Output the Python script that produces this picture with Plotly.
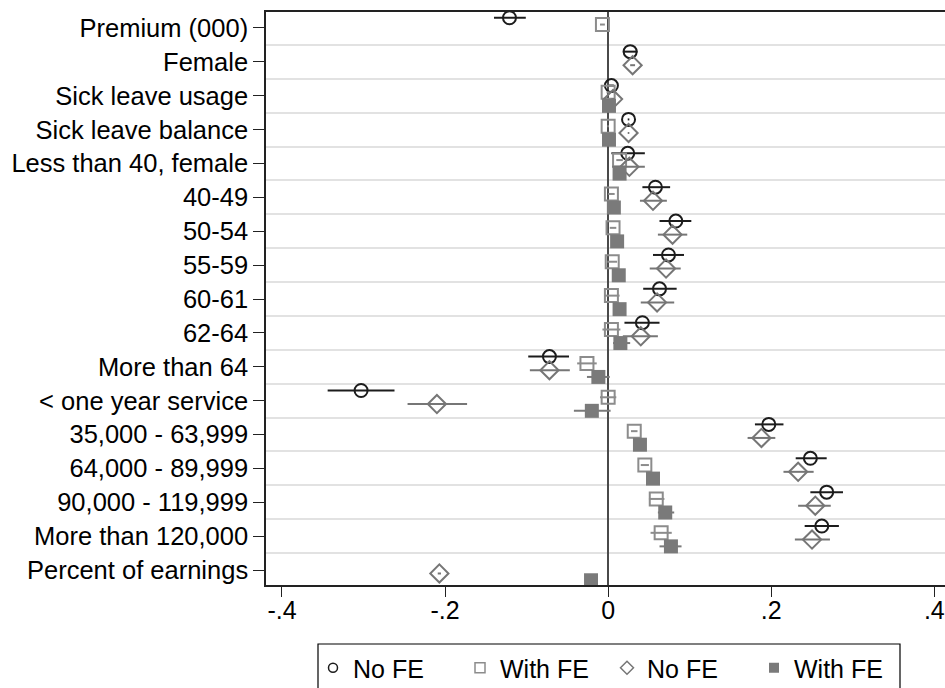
import plotly.graph_objects as go

# Coefficient labels, top to bottom
categories = [
    "Premium (000)", "Female", "Sick leave usage", "Sick leave balance",
    "Less than 40, female", "40-49", "50-54", "55-59", "60-61", "62-64",
    "More than 64", "< one year service", "35,000 - 63,999", "64,000 - 89,999",
    "90,000 - 119,999", "More than 120,000", "Percent of earnings",
]

# Model 1: No FE (circles)
m1_est = [-0.121, 0.027, 0.004, 0.025, 0.024, 0.058, 0.083, 0.074, 0.063, 0.042,
          -0.072, -0.303, 0.197, 0.248, 0.268, 0.262, None]
m1_lo = [-0.140, 0.018, 0.001, 0.024, 0.004, 0.042, 0.063, 0.055, 0.043, 0.020,
         -0.098, -0.344, 0.180, 0.230, 0.248, 0.241, None]
m1_hi = [-0.101, 0.036, 0.007, 0.026, 0.045, 0.076, 0.102, 0.093, 0.084, 0.063,
         -0.048, -0.262, 0.215, 0.268, 0.288, 0.283, None]

# Model 2: With FE (hollow squares)
m2_est = [-0.007, None, 0.000, 0.000, 0.014, 0.004, 0.006, 0.005, 0.004, 0.004,
          -0.026, 0.000, 0.032, 0.045, 0.059, 0.065, None]
m2_lo = [-0.010, None, -0.002, -0.001, 0.010, 0.000, 0.002, -0.001, -0.005, -0.007,
         -0.038, -0.010, 0.028, 0.040, 0.050, 0.052, None]
m2_hi = [-0.004, None, 0.002, 0.001, 0.018, 0.008, 0.010, 0.011, 0.014, 0.015,
         -0.014, 0.010, 0.036, 0.050, 0.069, 0.078, None]

# Model 3: No FE (diamonds)
m3_est = [None, 0.030, 0.006, 0.025, 0.026, 0.055, 0.079, 0.071, 0.060, 0.040,
          -0.072, -0.210, 0.188, 0.233, 0.254, 0.250, -0.207]
m3_lo = [None, 0.027, 0.004, 0.024, 0.005, 0.039, 0.061, 0.051, 0.040, 0.018,
         -0.096, -0.246, 0.171, 0.215, 0.233, 0.229, -0.209]
m3_hi = [None, 0.033, 0.008, 0.026, 0.045, 0.072, 0.097, 0.089, 0.081, 0.061,
         -0.047, -0.173, 0.205, 0.252, 0.273, 0.272, -0.205]

# Model 4: With FE (filled squares)
m4_est = [None, None, 0.001, 0.001, 0.014, 0.007, 0.011, 0.013, 0.014, 0.015,
          -0.012, -0.020, 0.039, 0.055, 0.070, 0.077, -0.021]
m4_lo = [None, None, -0.001, 0.000, 0.008, 0.003, 0.007, 0.008, 0.010, 0.006,
         -0.026, -0.042, 0.035, 0.051, 0.061, 0.063, -0.023]
m4_hi = [None, None, 0.003, 0.002, 0.020, 0.011, 0.016, 0.018, 0.019, 0.027,
         0.002, 0.003, 0.043, 0.059, 0.081, 0.090, -0.019]

x_tickvals = [-0.4, -0.2, 0.0, 0.2, 0.4]
x_ticktext = ["-.4", "-.2", "0", ".2", ".4"]

FONT = "Liberation Sans"
W, H = 945, 688
M_L, M_R, M_T, M_B = 266, 0, 12, 103
PW, PH = W - M_L - M_R, H - M_T - M_B

models = [
    dict(name="No FE", est=m1_est, lo=m1_lo, hi=m1_hi, offset=-0.3,
         symbol="circle-open", size=13, color="#1c1c1c", lsize=9),
    dict(name="With FE", est=m2_est, lo=m2_lo, hi=m2_hi, offset=-0.1,
         symbol="square-open", size=13, color="#8c8c8c", lsize=10),
    dict(name="No FE", est=m3_est, lo=m3_lo, hi=m3_hi, offset=0.1,
         symbol="diamond-open", size=14, color="#767676", lsize=10),
    dict(name="With FE", est=m4_est, lo=m4_lo, hi=m4_hi, offset=0.3,
         symbol="square", size=14, color="#7a7a7a", lsize=10),
]

fig = go.Figure()

for m in models:
    xs, ys, plus, minus = [], [], [], []
    for i, (e, lo, hi) in enumerate(zip(m["est"], m["lo"], m["hi"])):
        if e is None:
            continue
        xs.append(e)
        ys.append(i + m["offset"])
        plus.append(hi - e)
        minus.append(e - lo)
    line_w = 0 if m["symbol"] == "square" else 2
    fig.add_trace(go.Scatter(
        x=xs, y=ys, mode="markers", showlegend=False, name=m["name"],
        marker=dict(symbol=m["symbol"], size=m["size"], color=m["color"],
                    line=dict(width=line_w, color=m["color"])),
        error_x=dict(type="data", symmetric=False, array=plus, arrayminus=minus,
                     color=m["color"], thickness=2, width=0),
    ))

# legend entries with smaller key symbols
for m in models:
    line_w = 0 if m["symbol"] == "square" else 1.5
    fig.add_trace(go.Scatter(
        x=[None], y=[None], mode="markers", name=m["name"], showlegend=True,
        marker=dict(symbol=m["symbol"], size=m["lsize"], color=m["color"],
                    line=dict(width=line_w, color=m["color"])),
    ))

n = len(categories)


def px_to_paper_x(px):
    return (px - M_L) / PW


def px_to_paper_y(py):
    return (H - M_B - py) / PH


# frame around the legend keys (runs off the lower edge)
fig.add_shape(
    type="rect", xref="paper", yref="paper",
    x0=px_to_paper_x(318), x1=px_to_paper_x(900),
    y0=px_to_paper_y(700), y1=px_to_paper_y(644),
    line=dict(color="black", width=1.2), fillcolor="rgba(0,0,0,0)",
)

fig.update_layout(
    width=W, height=H,
    margin=dict(l=M_L, r=M_R, t=M_T, b=M_B),
    paper_bgcolor="white", plot_bgcolor="white",
    font=dict(family=FONT, color="black"),
    showlegend=True,
    legend=dict(
        orientation="h", xref="container", yref="container",
        x=313 / W, xanchor="left", y=1 - 645 / H, yanchor="top",
        borderwidth=0, bgcolor="rgba(0,0,0,0)",
        font=dict(family=FONT, size=25, color="black"),
        itemwidth=30, traceorder="normal",
        entrywidth=102, entrywidthmode="pixels",
    ),
    xaxis=dict(
        range=[-0.4196, 0.4131], tickvals=x_tickvals, ticktext=x_ticktext,
        showgrid=False, zeroline=True, zerolinecolor="#4a4a4a", zerolinewidth=2,
        showline=True, linecolor="#222", linewidth=1.5, mirror=True,
        ticks="outside", ticklen=10, tickwidth=1.2, tickcolor="#222",
        ticklabelstandoff=-8,
        tickfont=dict(family=FONT, size=25, color="black"),
    ),
    yaxis=dict(
        range=[n - 0.56, -0.47], tickvals=list(range(n)), ticktext=categories,
        showgrid=False, zeroline=False,
        showline=True, linecolor="#222", linewidth=1.5,
        ticks="outside", ticklen=11, tickwidth=1.2, tickcolor="#222",
        tickfont=dict(family=FONT, size=25.5, color="black"),
        minor=dict(tickvals=[i + 0.5 for i in range(n - 1)], showgrid=True,
                   gridcolor="#e2e2e2", gridwidth=2, ticks=""),
    ),
)

fig.write_html("out.html")
